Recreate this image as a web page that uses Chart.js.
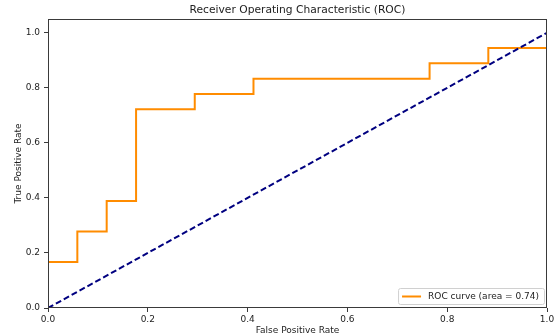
<!DOCTYPE html>
<html>
<head>
<meta charset="utf-8">
<script src="https://cdn.jsdelivr.net/npm/chart.js@4.4.0/dist/chart.umd.min.js"></script>
<style>
html,body{margin:0;padding:0;background:#fff;}
#c{display:block;}
</style>
</head>
<body>
<canvas id="c" width="557" height="336"></canvas>
<script>
// ROC curve points (false positive rate, true positive rate)
const fpr = [0, 0, 0.0588, 0.0588, 0.1176, 0.1176, 0.1765, 0.1765, 0.2941, 0.2941, 0.4118, 0.4118, 0.7647, 0.7647, 0.8824, 0.8824, 1.0];
const tpr = [0, 0.1667, 0.1667, 0.2778, 0.2778, 0.3889, 0.3889, 0.7222, 0.7222, 0.7778, 0.7778, 0.8333, 0.8333, 0.8889, 0.8889, 0.9444, 0.9444];
// chance diagonal
const diagX = [0, 1];
const diagY = [0, 1];
const rocArea = 0.74;
const xTicks = [0, 0.2, 0.4, 0.6, 0.8, 1.0];
const yTicks = [0, 0.2, 0.4, 0.6, 0.8, 1.0];
const titleText = 'Receiver Operating Characteristic (ROC)';
const xLabel = 'False Positive Rate';
const yLabel = 'True Positive Rate';

const FONT = "'DejaVu Sans', sans-serif";

const frameAndText = {
  id: 'frameAndText',
  afterDraw(chart) {
    const ctx = chart.ctx;
    const a = chart.chartArea;
    ctx.save();
    // full axes box
    ctx.strokeStyle = '#3a3a3a';
    ctx.lineWidth = 1;
    ctx.strokeRect(Math.round(a.left) + 0.5, Math.round(a.top) + 0.5, Math.round(a.right - a.left) - 1, Math.round(a.bottom - a.top) - 1);
    // title
    ctx.fillStyle = '#222';
    ctx.font = '10.7px ' + FONT;
    ctx.textAlign = 'center';
    ctx.textBaseline = 'middle';
    ctx.fillText(titleText, (a.left + a.right) / 2, 10);
    // legend (lower right)
    const ds = chart.data.datasets[0];
    ctx.font = '9px ' + FONT;
    const tw = ctx.measureText(ds.label).width;
    const w = 3 + 20 + 7 + tw + 5;
    const h = 16;
    const x0 = a.right - 3 - w;
    const y0 = a.bottom - 4 - h;
    ctx.fillStyle = 'rgba(255,255,255,0.85)';
    ctx.strokeStyle = '#d0d0d0';
    ctx.lineWidth = 1;
    ctx.beginPath();
    if (ctx.roundRect) ctx.roundRect(x0 + 0.5, y0 + 0.5, w, h, 2); else ctx.rect(x0 + 0.5, y0 + 0.5, w, h);
    ctx.fill();
    ctx.stroke();
    ctx.strokeStyle = ds.borderColor;
    ctx.lineWidth = 2;
    ctx.beginPath();
    ctx.moveTo(x0 + 4, y0 + h / 2 + 0.5);
    ctx.lineTo(x0 + 23, y0 + h / 2 + 0.5);
    ctx.stroke();
    ctx.fillStyle = '#222';
    ctx.textAlign = 'left';
    ctx.fillText(ds.label, x0 + 30, y0 + h / 2 + 1);
    ctx.restore();
  }
};

const toPts = (xs, ys) => xs.map((x, i) => ({x: x, y: ys[i]}));

new Chart(document.getElementById('c'), {
  type: 'scatter',
  data: {
    datasets: [
      {
        label: 'ROC curve (area = ' + rocArea.toFixed(2) + ')',
        data: toPts(fpr, tpr),
        showLine: true,
        borderColor: '#ff8c00',
        backgroundColor: '#ff8c00',
        borderWidth: 2,
        pointRadius: 0,
        order: 2,
        tension: 0
      },
      {
        label: 'chance',
        data: toPts(diagX, diagY),
        showLine: true,
        borderColor: '#000080',
        backgroundColor: '#000080',
        borderWidth: 2,
        borderDash: [6, 3],
        pointRadius: 0,
        order: 1
      }
    ]
  },
  options: {
    responsive: false,
    animation: false,
    layout: {padding: {top: 19, right: 10, left: 0, bottom: 0}},
    plugins: {
      legend: {display: false},
      title: {display: false},
      tooltip: {enabled: false}
    },
    scales: {
      x: {
        type: 'linear',
        min: 0, max: 1,
        afterBuildTicks: s => { s.ticks = xTicks.map(v => ({value: v})); },
        afterFit: s => { s.height = 28; },
        grid: {display: true, drawOnChartArea: false, drawTicks: true, tickLength: 4, color: '#3a3a3a', tickColor: '#3a3a3a'},
        border: {display: false},
        ticks: {padding: 2, color: '#222', font: {family: FONT, size: 9}, maxRotation: 0, callback: v => Number(v).toFixed(1)},
        title: {display: true, text: xLabel, color: '#222', font: {family: FONT, size: 9}, padding: {top: 0, bottom: 0}}
      },
      y: {
        type: 'linear',
        min: 0, max: 1.05,
        afterBuildTicks: s => { s.ticks = yTicks.map(v => ({value: v})); },
        afterFit: s => { s.width = 48; },
        grid: {display: true, drawOnChartArea: false, drawTicks: true, tickLength: 4, color: '#3a3a3a', tickColor: '#3a3a3a'},
        border: {display: false},
        ticks: {padding: 4, color: '#222', font: {family: FONT, size: 9}, callback: v => Number(v).toFixed(1)},
        title: {display: true, text: yLabel, color: '#222', font: {family: FONT, size: 9}, padding: {top: 13, bottom: 0}}
      }
    }
  },
  plugins: [frameAndText]
});
</script>
</body>
</html>
